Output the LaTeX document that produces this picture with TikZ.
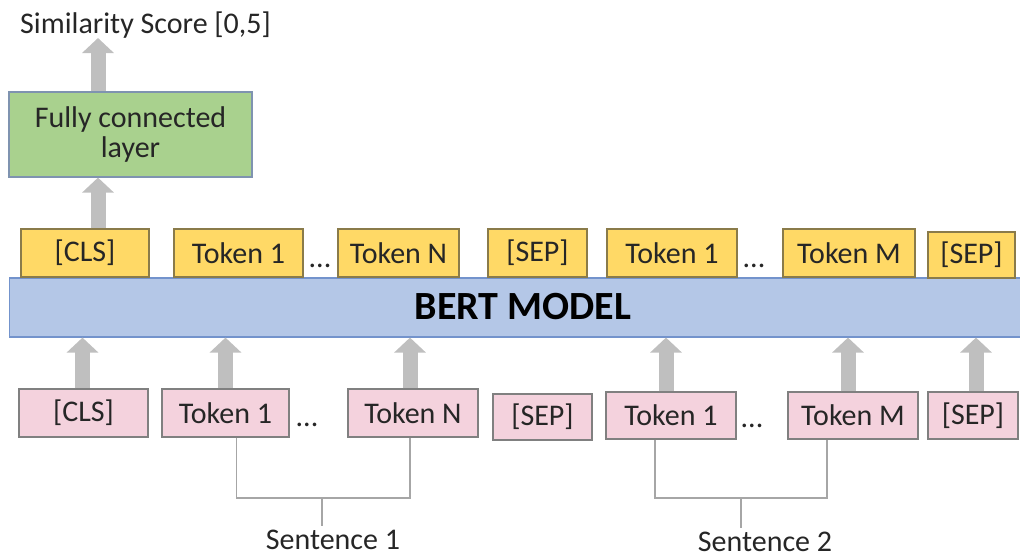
\documentclass[tikz,border=0pt]{standalone}
\usepackage{fontspec}
\setmainfont{Carlito}
\usetikzlibrary{arrows.meta,calc}
\definecolor{ybox}{HTML}{FFD966}
\definecolor{yline}{HTML}{8A7B4A}
\definecolor{pbox}{HTML}{F4D2DD}
\definecolor{pline}{HTML}{808080}
\definecolor{bbar}{HTML}{B4C7E7}
\definecolor{bline}{HTML}{7393CC}
\definecolor{gbox}{HTML}{A9D18E}
\definecolor{gline}{HTML}{7F93B0}
\definecolor{arr}{HTML}{BFBFBF}
\definecolor{brk}{HTML}{A6A6A6}
\definecolor{txt}{HTML}{262626}
\begin{document}
\begin{tikzpicture}[x=1pt,y=-1pt,
  every node/.style={text=txt,font=\fontsize{30}{30}\selectfont},
  ytok/.style={draw=yline,fill=ybox,line width=1.2pt,minimum height=48pt,inner sep=0pt},
  ptok/.style={draw=pline,fill=pbox,line width=1.2pt,minimum height=48pt,inner sep=0pt},
  bigarrow/.style={draw=arr,line width=15pt,-{Triangle[width=31pt,length=15pt]}},
  bracket/.style={draw=brk,line width=1.5pt},
  dots/.style={anchor=base,inner sep=0pt}]
\useasboundingbox (0,0) rectangle (1020,557);
% BERT bar
\node[draw=bline,fill=bbar,line width=1.2pt,minimum width=1013pt,minimum height=59pt,inner sep=0pt] (bert) at (516,307.5) {};
\node[font=\fontsize{40}{40}\selectfont\bfseries,text=black] (bertlbl) at (523,307) {BERT MODEL};
% yellow output tokens
\node[ytok,minimum width=128pt] (y1) at (85,253) {[CLS]};
\node[ytok,minimum width=129pt] (y2) at (238.5,253) {Token 1};
\node[ytok,minimum width=121pt] (y3) at (398.5,253) {Token N};
\node[ytok,minimum width=99pt] (y4) at (537.5,253) {[SEP]};
\node[ytok,minimum width=130pt] (y5) at (672,253) {Token 1};
\node[ytok,minimum width=132pt] (y6) at (849,253) {Token M};
\node[ytok,minimum width=87pt,minimum height=46pt] (y7) at (971.5,255) {[SEP]};
\node[dots] (yd1) at (320,267) {...};
\node[dots] (yd2) at (754,267) {...};
% pink input tokens
\node[ptok,minimum width=129pt] (p1) at (83.5,413) {[CLS]};
\node[ptok,minimum width=127pt] (p2) at (225.5,413) {Token 1};
\node[ptok,minimum width=130pt] (p3) at (413,413) {Token N};
\node[ptok,minimum width=99pt,minimum height=46pt] (p4) at (542.5,417) {[SEP]};
\node[ptok,minimum width=130pt,minimum height=47pt] (p5) at (671,415.5) {Token 1};
\node[ptok,minimum width=130pt,minimum height=47pt] (p6) at (853,415.5) {Token M};
\node[ptok,minimum width=90pt,minimum height=47pt] (p7) at (973,415.5) {[SEP]};
\node[dots] (pd1) at (307,426) {...};
\node[dots] (pd2) at (752,427) {...};
% fully connected layer
\node[draw=gline,fill=gbox,line width=1.2pt,minimum width=243pt,minimum height=85pt,inner sep=0pt,align=center] (fc) at (130.5,134.5) {Fully connected\\layer};
% similarity score
\node[anchor=base] (score) at (145.5,33) {Similarity Score [0,5]};
\coordinate (scorebase) at (98,38);
% arrows
\draw[bigarrow] ([xshift=13pt]y1.north) -- ([xshift=13pt]y1.north |- fc.south);
\draw[bigarrow] ([xshift=-32.5pt]fc.north) -- (scorebase);
\draw[bigarrow] ([xshift=-1pt]p1.north) -- ([xshift=-1pt]p1.north |- bert.south);
\draw[bigarrow] (p2.north) -- (p2.north |- bert.south);
\draw[bigarrow] ([xshift=-3pt]p3.north) -- ([xshift=-3pt]p3.north |- bert.south);
\draw[bigarrow] ([xshift=-5pt]p5.north) -- ([xshift=-5pt]p5.north |- bert.south);
\draw[bigarrow] ([xshift=-5pt]p6.north) -- ([xshift=-5pt]p6.north |- bert.south);
\draw[bigarrow] ([xshift=3pt]p7.north) -- ([xshift=3pt]p7.north |- bert.south);
% sentence labels
\node[anchor=base] (s1) at (333,549) {Sentence 1};
\node[anchor=base] (s2) at (765,551) {Sentence 2};
\coordinate (b1) at (322,498);
\coordinate (b2) at (741,498);
\draw[bracket] ([xshift=11pt]p2.south) |- (b1) -| ([xshift=-3pt]p3.south);
\draw[bracket] (b1) -- (b1 |- s1.north);
\draw[bracket] ([xshift=-16pt]p5.south) |- (b2) -| ([xshift=-26pt]p6.south);
\draw[bracket] (b2) -- (b2 |- s2.north);
\end{tikzpicture}
\end{document}
